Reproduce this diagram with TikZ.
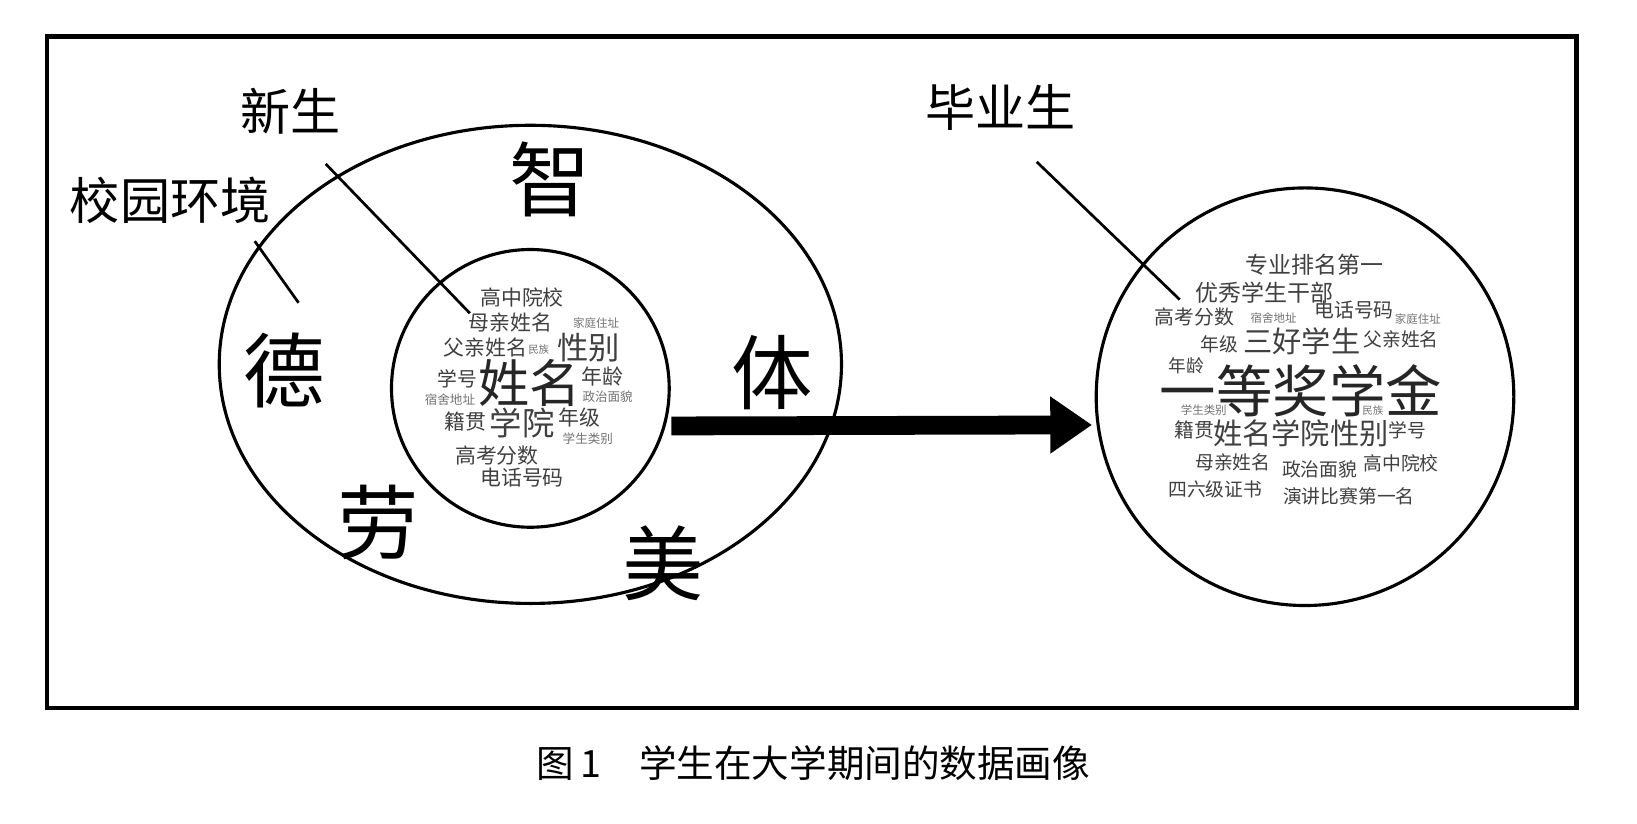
\documentclass[tikz,border=0pt]{standalone}
\usepackage{fontspec}
\newfontfamily\cjk{Noto Sans CJK SC}
\usetikzlibrary{shapes.geometric,arrows.meta}
\newcommand{\wsz}[1]{\fontsize{#1}{#1}\selectfont}
\definecolor{wdark}{gray}{0.15}
\definecolor{wmid}{gray}{0.25}
\definecolor{wlight}{gray}{0.45}
\tikzset{
  frame/.style={draw=black, line width=4pt},
  ring/.style={draw=black, line width=3pt, inner sep=0pt, outer sep=0pt},
  pointer/.style={draw=black, line width=2.6pt},
  label/.style={inner sep=0pt, font=\cjk, text=black},
  capt/.style={inner sep=0pt, font=\cjk, text=black},
  virtue/.style={inner sep=0pt, font=\cjk, text=black},
  word/.style={inner sep=0pt, font=\cjk, text=wmid},
  tiny/.style={inner sep=0pt, font=\cjk, text=wlight},
  bigarrow/.style={draw=black, line width=18pt, -{Triangle[length=40pt,width=52pt]}}
}
\begin{document}
\begin{tikzpicture}[x=1pt,y=-1pt]
\useasboundingbox (0,0) rectangle (1568,789);
\fill[white] (0,0) rectangle (1568,789);
% frame
\draw[frame] (45,35) rectangle (1510,678);
% caption
\node[capt, anchor=west] (cap) at (514,731) {\wsz{36}图\,1\quad 学生在大学期间的数据画像};
% rings
\node[ring, ellipse, minimum width=596pt, minimum height=458pt] (campus) at (508,349) {};
\node[ring, circle, minimum size=266pt] (fresh) at (508,372) {};
\node[ring, circle, minimum size=400pt] (grad) at (1250,380) {};
% labels
\node[label] (lxs) at (278,107) {\wsz{48}新生};
\node[label] (lxy) at (163,192) {\wsz{48}校园环境};
\node[label] (lby) at (958,103) {\wsz{48}毕业生};
\coordinate (xs1) at (312,157);
\coordinate (xs2) at (450,300);
\coordinate (xy1) at (244,231);
\coordinate (xy2) at (286,290);
\coordinate (by1) at (993,155);
\coordinate (by2) at (1130,287);
\draw[pointer] (xs1) -- (xs2);
\draw[pointer] (xy1) -- (xy2);
\draw[pointer] (by1) -- (by2);
% virtues
\node[virtue] (zhi) at (527,172) {\wsz{78}智};
\node[virtue] (de) at (272,355) {\wsz{78}德};
\node[virtue] (ti) at (740,357) {\wsz{78}体};
\node[virtue] (lao) at (362,500) {\wsz{78}劳};
\node[virtue] (mei) at (635,540) {\wsz{78}美};
% arrow
\coordinate (as) at (643,408);
\coordinate (ae) at (1046,407);
\draw[bigarrow] (as) -- (ae);
% word cloud: freshman
\node[word] (f1) at (500,285) {\wsz{20}高中院校};
\node[word] (f2) at (489,309) {\wsz{20}母亲姓名};
\node[tiny] (f3) at (571,309) {\wsz{11}家庭住址};
\node[word] (f4) at (465,333) {\wsz{20}父亲姓名};
\node[tiny] (f5) at (516,335) {\wsz{10}民族};
\node[word] (f6) at (564,333) {\wsz{30}性别};
\node[word] (f7) at (438,363) {\wsz{19}学号};
\node[word, text=wdark] (f8) at (507,367) {\wsz{49}姓名};
\node[word] (f9) at (577,361) {\wsz{20}年龄};
\node[tiny] (f10) at (431,383) {\wsz{12}宿舍地址};
\node[tiny] (f11) at (582,380) {\wsz{12}政治面貌};
\node[word] (f12) at (446,404) {\wsz{20}籍贯};
\node[word] (f13) at (500,405) {\wsz{31}学院};
\node[word] (f14) at (555,400) {\wsz{20}年级};
\node[tiny] (f15) at (563,420) {\wsz{12}学生类别};
\node[word] (f16) at (476,436) {\wsz{20}高考分数};
\node[word] (f17) at (500,457) {\wsz{20}电话号码};
% word cloud: graduate
\node[word] (g1) at (1259,254) {\wsz{22}专业排名第一};
\node[word] (g2) at (1211,280) {\wsz{22}优秀学生干部};
\node[word] (g3) at (1144,304) {\wsz{19}高考分数};
\node[tiny] (g4) at (1220,305) {\wsz{11}宿舍地址};
\node[word] (g5) at (1297,297) {\wsz{19}电话号码};
\node[tiny] (g6) at (1358,306) {\wsz{11}家庭住址};
\node[word] (g7) at (1168,330) {\wsz{18}年级};
\node[word] (g8) at (1247,327) {\wsz{28}三好学生};
\node[word] (g9) at (1342,325) {\wsz{18}父亲姓名};
\node[word] (g10) at (1136,350) {\wsz{17}年龄};
\node[word, text=wdark] (g11) at (1246,374) {\wsz{54}一等奖学金};
\node[tiny] (g12) at (1153,393) {\wsz{11}学生类别};
\node[tiny] (g13) at (1315,393) {\wsz{10}民族};
\node[word] (g14) at (1144,412) {\wsz{19}籍贯};
\node[word] (g15) at (1246,415) {\wsz{28}姓名学院性别};
\node[word] (g16) at (1348,412) {\wsz{18}学号};
\node[word] (g17) at (1181,443) {\wsz{18}母亲姓名};
\node[word] (g18) at (1264,450) {\wsz{18}政治面貌};
\node[word] (g19) at (1342,444) {\wsz{18}高中院校};
\node[word] (g20) at (1164,469) {\wsz{18}四六级证书};
\node[word] (g21) at (1292,475) {\wsz{18}演讲比赛第一名};
\end{tikzpicture}
\end{document}
